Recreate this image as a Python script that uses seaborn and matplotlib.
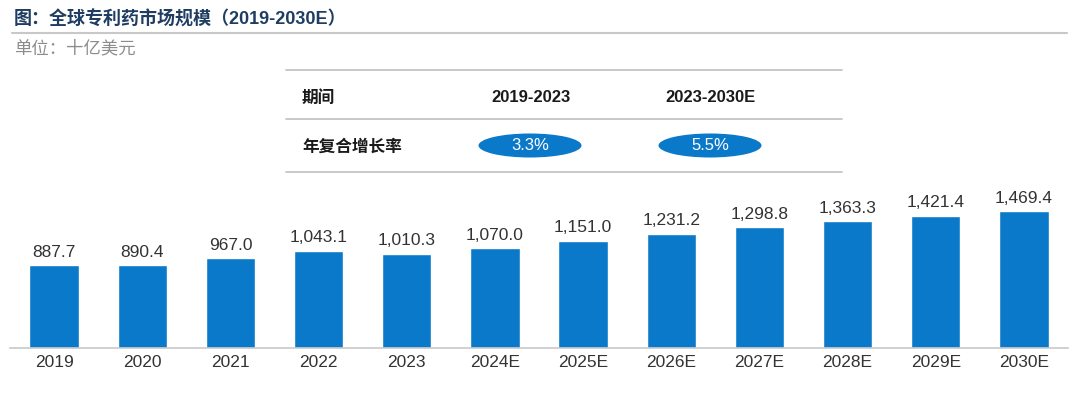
import matplotlib
matplotlib.use("Agg")
import matplotlib.pyplot as plt
from matplotlib.patches import Ellipse
import seaborn as sns
import pandas as pd

# data
years = ["2019", "2020", "2021", "2022", "2023", "2024E", "2025E",
         "2026E", "2027E", "2028E", "2029E", "2030E"]
market = [887.7, 890.4, 967.0, 1043.1, 1010.3, 1070.0, 1151.0,
          1231.2, 1298.8, 1363.3, 1421.4, 1469.4]
periods = ["2019-2023", "2023-2030E"]
cagr = ["3.3%", "5.5%"]

title = "图：全球专利药市场规模（2019-2030E）"
unit = "单位：十亿美元"

sns.set_theme(style="white")
plt.rcParams["font.family"] = ["Liberation Sans", "Noto Sans CJK SC", "DejaVu Sans"]

blue = "#0A79C9"
W, H = 1080, 399
fig = plt.figure(figsize=(W / 100, H / 100), dpi=100)

# bar chart
ax = fig.add_axes((10 / W, 51 / H, 1058 / W, 158 / H))
df = pd.DataFrame({"year": years, "value": market})
sns.barplot(data=df, x="year", y="value", color=blue, width=0.56,
            saturation=1, ax=ax)
ax.bar_label(ax.containers[0], labels=[f"{v:,.1f}" for v in market],
             padding=4, fontsize=12.5, color="#333333")
ax.set_xlim(-0.5, 11.5)
ax.set_ylim(0, 1699)
ax.set_xlabel("")
ax.set_ylabel("")
ax.set_yticks([])
ax.tick_params(axis="x", length=0, pad=5, labelsize=12.5, labelcolor="#333333")
for s in ["top", "right", "left"]:
    ax.spines[s].set_visible(False)
ax.spines["bottom"].set_color("#c8c8c8")
ax.spines["bottom"].set_linewidth(1.2)

# overlay in pixel coordinates for title and CAGR table
ov = fig.add_axes((0, 0, 1, 1), zorder=3)
ov.set_xlim(0, W)
ov.set_ylim(H, 0)
ov.axis("off")
ov.patch.set_alpha(0)

ov.text(14, 20, title, fontsize=13, fontweight="bold", color="#1F3D62",
        va="center", ha="left")
ov.plot([12, 1067], [33, 33], color="#c8c8c8", lw=1.5)
ov.text(14, 48, unit, fontsize=12.5, color="#8c8c8c", va="center", ha="left")

for y in [70, 119, 172]:
    ov.plot([286, 842], [y, y], color="#bfbfbf", lw=1.2)

ov.text(302, 98, "期间", fontsize=12, fontweight="bold", color="#1a1a1a",
        va="center", ha="left")
ov.text(302, 147, "年复合增长率", fontsize=12, fontweight="bold", color="#1a1a1a",
        va="center", ha="left")

col_x = [531, 711]
for cx, p, c in zip(col_x, periods, cagr):
    ov.text(cx, 97, p, fontsize=12, fontweight="bold", color="#1a1a1a",
            va="center", ha="center")
    ov.add_patch(Ellipse((cx - 1, 145.5), 103, 24, facecolor=blue, edgecolor="none"))
    ov.text(cx - 1, 146, c, fontsize=12, color="white", va="center", ha="center")

fig.savefig("out.png", dpi=100, facecolor="white")
